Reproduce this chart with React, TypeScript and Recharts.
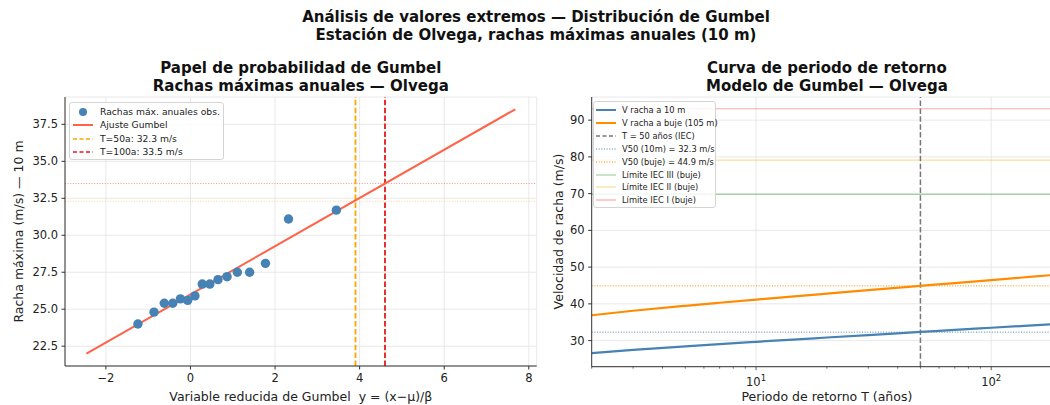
import React from 'react';
import { ComposedChart, Line, Scatter, XAxis, YAxis, CartesianGrid, ReferenceLine } from 'recharts';

// ---------- Left panel data (Gumbel probability paper) ----------
const obsReduced = [-1.243, -0.862, -0.619, -0.419, -0.238, -0.066, 0.105, 0.278, 0.458, 0.651, 0.865, 1.108, 1.399, 1.773, 2.318, 3.45];
const obsGust = [24.0, 24.8, 25.4, 25.4, 25.7, 25.6, 25.9, 26.7, 26.7, 27.0, 27.2, 27.5, 27.5, 28.1, 31.1, 31.7];
const fitReduced = [-2.46, 7.68];
const fitGust = [21.99, 38.52];
const leftXTicks = [-2, 0, 2, 4, 6, 8];
const leftYTicks = [22.5, 25, 27.5, 30, 32.5, 35, 37.5];
const reduced50 = 3.902;
const reduced100 = 4.6;
const gust50 = 32.3;
const gust100 = 33.5;

// ---------- Right panel data (return period curve) ----------
const periods = [2, 3, 5, 7, 10, 15, 20, 30, 50, 70, 100, 150, 200];
const gust10m = [26.6, 27.47, 28.44, 29.05, 29.67, 30.36, 30.84, 31.52, 32.36, 32.91, 33.5, 34.16, 34.63];
const gustHub = [36.9, 38.12, 39.47, 40.3, 41.16, 42.12, 42.79, 43.73, 44.9, 45.67, 46.48, 47.4, 48.05];
const v50_10m = 32.3;
const v50_hub = 44.9;
const iecIII = 69.8;
const iecII = 79.1;
const iecI = 93.1;
const designPeriod = 50;
const rightYTicks = [30, 40, 50, 60, 70, 80, 90];
const rightXMajor = [10, 100];
const rightXMinor = [2, 3, 4, 5, 6, 7, 8, 9, 20, 30, 40, 50, 60, 70, 80, 90, 200];

const obsData = obsReduced.map((x, i) => ({ x, y: obsGust[i] }));
const fitData = fitReduced.map((x, i) => ({ x, y: fitGust[i] }));
const curveData = periods.map((t, i) => ({ t, a: gust10m[i], b: gustHub[i] }));

const FONT = '"DejaVu Sans", sans-serif';
const GRID = '#e2e2e2';
const AXIS = '#333';
const STEEL = '#4682B4';
const TOMATO = '#FF6347';
const ORANGE = '#FFA500';
const RED = '#e41a1c';
const DORANGE = '#FF8C00';
const DASH = '5.5 2.4';
const DOT = '1 1.65';
const TICK_FONT = 11.5;

const RIGHT_AXIS_Y = 366.7;

const fmtMinus = (v: number) => (v < 0 ? '\u2212' + Math.abs(v) : String(v));

const LogTick = (props: any) => {
  const { x, payload } = props;
  const v = payload.value;
  const major = v === 10 || v === 100;
  const y0 = RIGHT_AXIS_Y;
  if (!major) {
    return <line x1={x} x2={x} y1={y0} y2={y0 + 2} stroke={AXIS} strokeWidth={0.7} />;
  }
  const exp = v === 10 ? '1' : '2';
  return (
    <g>
      <line x1={x} x2={x} y1={y0} y2={y0 + 3.5} stroke={AXIS} strokeWidth={0.8} />
      <text x={x} y={y0 + 19} textAnchor="middle" fontSize={TICK_FONT} fill="#222" fontFamily={FONT}>
        <tspan>10</tspan>
        <tspan dy={-5} fontSize={8.5}>{exp}</tspan>
      </text>
    </g>
  );
};

const LegendIcon = ({ kind, color, dash, width, opacity }: any) => (
  <svg width={20} height={8} style={{ display: 'block' }}>
    {kind === 'dot' ? (
      <circle cx={10} cy={4} r={4} fill={color} />
    ) : (
      <line x1={0} x2={20} y1={4} y2={4} stroke={color} strokeWidth={width} strokeDasharray={dash} strokeOpacity={opacity ?? 1} />
    )}
  </svg>
);

const LegendBox = ({ left, top, width, height, rows, first, step, textOffset, iconOffset, fontSize }: any) => (
  <div
    style={{
      position: 'absolute',
      left,
      top,
      width,
      height,
      background: 'rgba(255,255,255,0.85)',
      border: '1px solid #d4d4d4',
      borderRadius: 3,
      boxSizing: 'border-box',
    }}
  >
    {rows.map((r: any, i: number) => (
      <div key={i} style={{ position: 'absolute', left: 0, top: first + i * step - 5, height: 10, width: '100%' }}>
        <div style={{ position: 'absolute', left: iconOffset, top: 1 }}>
          <LegendIcon {...r} />
        </div>
        <div
          style={{
            position: 'absolute',
            left: textOffset,
            top: 0,
            fontSize,
            lineHeight: '10px',
            color: '#222',
            whiteSpace: 'nowrap',
            fontFamily: FONT,
          }}
        >
          {r.label}
        </div>
      </div>
    ))}
  </div>
);

const leftLegendRows = [
  { kind: 'dot', color: STEEL, label: 'Rachas máx. anuales obs.' },
  { kind: 'line', color: TOMATO, width: 2, label: 'Ajuste Gumbel' },
  { kind: 'line', color: ORANGE, width: 1.6, dash: '4 2.5', label: 'T=50a: 32.3 m/s' },
  { kind: 'line', color: RED, width: 1.6, dash: '4 2.5', label: 'T=100a: 33.5 m/s' },
];

const rightLegendRows = [
  { kind: 'line', color: STEEL, width: 2, label: 'V racha a 10 m' },
  { kind: 'line', color: DORANGE, width: 2, label: 'V racha a buje (105 m)' },
  { kind: 'line', color: '#777', width: 1.5, dash: '4 2.5', label: 'T = 50 años (IEC)' },
  { kind: 'line', color: STEEL, width: 1, dash: DOT, label: 'V50 (10m) = 32.3 m/s' },
  { kind: 'line', color: DORANGE, width: 1, dash: DOT, label: 'V50 (buje) = 44.9 m/s' },
  { kind: 'line', color: '#2ca02c', width: 1.2, opacity: 0.45, label: 'Límite IEC III (buje)' },
  { kind: 'line', color: ORANGE, width: 1.2, opacity: 0.4, label: 'Límite IEC II (buje)' },
  { kind: 'line', color: '#ff0000', width: 1.2, opacity: 0.35, label: 'Límite IEC I (buje)' },
];

const titleStyle: React.CSSProperties = {
  position: 'absolute',
  fontFamily: FONT,
  fontWeight: 'bold',
  fontSize: 15,
  lineHeight: '18px',
  textAlign: 'center',
  color: '#111',
  whiteSpace: 'nowrap',
};

const labelStyle: React.CSSProperties = {
  position: 'absolute',
  fontFamily: FONT,
  fontSize: 12.5,
  lineHeight: '15px',
  color: '#222',
  whiteSpace: 'nowrap',
};

export default function App() {
  return (
    <div
      style={{
        position: 'absolute',
        left: 0,
        top: 0,
        width: 1050,
        height: 405,
        overflow: 'hidden',
        background: '#fff',
        fontFamily: FONT,
      }}
    >
      {/* Suptitle */}
      <div style={{ ...titleStyle, left: 236, width: 600, top: 8 }}>
        Análisis de valores extremos — Distribución de Gumbel
        <br />
        Estación de Olvega, rachas máximas anuales (10 m)
      </div>

      {/* Left panel */}
      <div style={{ position: 'absolute', left: 0, top: 0 }}>
        <ComposedChart width={560} height={405} margin={{ top: 97, right: 23.3, bottom: 0, left: 0 }}>
          <CartesianGrid stroke={GRID} strokeWidth={0.8} />
          <XAxis
            type="number"
            dataKey="x"
            domain={[-2.967, 8.187]}
            ticks={leftXTicks}
            allowDataOverflow
            height={39}
            tickSize={3.5}
            tickMargin={4}
            stroke={AXIS}
            tick={{ fontSize: TICK_FONT, fill: '#222', fontFamily: FONT }}
            tickFormatter={fmtMinus}
          />
          <YAxis
            type="number"
            dataKey="y"
            domain={[21.16, 39.35]}
            ticks={leftYTicks}
            allowDataOverflow
            width={65}
            tickSize={3.5}
            tickMargin={3.5}
            stroke={AXIS}
            tick={{ fontSize: TICK_FONT, fill: '#222', fontFamily: FONT }}
            tickFormatter={(v: number) => v.toFixed(1)}
          />
          <ReferenceLine y={gust100} stroke={RED} strokeOpacity={0.45} strokeWidth={1} strokeDasharray={DOT} />
          <ReferenceLine y={gust50} stroke={ORANGE} strokeOpacity={0.45} strokeWidth={1} strokeDasharray={DOT} />
          <ReferenceLine x={reduced50} stroke={ORANGE} strokeWidth={1.8} strokeDasharray={DASH} />
          <ReferenceLine x={reduced100} stroke={RED} strokeWidth={1.8} strokeDasharray={DASH} />
          <Line data={fitData} dataKey="y" type="linear" stroke={TOMATO} strokeWidth={2} dot={false} isAnimationActive={false} />
          <Scatter
            data={obsData}
            dataKey="y"
            fill={STEEL}
            isAnimationActive={false}
            shape={(p: any) => <circle cx={p.cx} cy={p.cy} r={4.7} fill={STEEL} />}
          />
        </ComposedChart>
      </div>

      {/* Right panel */}
      <div style={{ position: 'absolute', left: 540, top: 0 }}>
        <ComposedChart width={540} height={405} data={curveData} margin={{ top: 97, right: 18, bottom: 0, left: 0 }}>
          <CartesianGrid stroke={GRID} strokeWidth={0.8} vertical={false} />
          <XAxis
            type="number"
            dataKey="t"
            scale="log"
            domain={[2, 200]}
            ticks={[...rightXMinor, ...rightXMajor].sort((a, b) => a - b)}
            allowDataOverflow
            height={38.3}
            tickLine={false}
            tickSize={0}
            stroke={AXIS}
            tick={<LogTick />}
            interval={0}
          />
          <YAxis
            type="number"
            domain={[22.9, 96.3]}
            ticks={rightYTicks}
            allowDataOverflow
            width={51.7}
            tickSize={3.5}
            tickMargin={3.5}
            stroke={AXIS}
            tick={{ fontSize: TICK_FONT, fill: '#222', fontFamily: FONT }}
          />
          {rightXMajor.map((v) => (
            <ReferenceLine key={v} x={v} stroke={GRID} strokeWidth={0.8} />
          ))}
          <ReferenceLine y={iecIII} stroke="#2ca02c" strokeOpacity={0.45} strokeWidth={1.2} />
          <ReferenceLine y={iecII} stroke={ORANGE} strokeOpacity={0.4} strokeWidth={1.2} />
          <ReferenceLine y={iecI} stroke="#ff0000" strokeOpacity={0.35} strokeWidth={1.2} />
          <ReferenceLine y={v50_10m} stroke={STEEL} strokeWidth={1} strokeDasharray={DOT} />
          <ReferenceLine y={v50_hub} stroke={DORANGE} strokeWidth={1} strokeDasharray={DOT} />
          <ReferenceLine x={designPeriod} stroke="#777" strokeWidth={1.5} strokeDasharray={DASH} />
          <Line dataKey="a" type="monotone" stroke={STEEL} strokeWidth={2.2} dot={false} isAnimationActive={false} />
          <Line dataKey="b" type="monotone" stroke={DORANGE} strokeWidth={2.2} dot={false} isAnimationActive={false} />
        </ComposedChart>
      </div>

      {/* Subplot titles */}
      <div style={{ ...titleStyle, left: 150.8, width: 300, top: 59 }}>
        Papel de probabilidad de Gumbel
        <br />
        Rachas máximas anuales — Olvega
      </div>
      <div style={{ ...titleStyle, left: 676.9, width: 300, top: 59 }}>
        Curva de periodo de retorno
        <br />
        Modelo de Gumbel — Olvega
      </div>

      {/* Axis labels */}
      <div style={{ ...labelStyle, left: 100.8, width: 400, textAlign: 'center', top: 389 }}>
        Variable reducida de Gumbel&nbsp; y = (x−μ)/β
      </div>
      <div style={{ ...labelStyle, left: 626.9, width: 400, textAlign: 'center', top: 389 }}>
        Periodo de retorno T (años)
      </div>
      <div
        style={{
          ...labelStyle,
          left: 18 - 150,
          top: 231.5 - 7.5,
          width: 300,
          textAlign: 'center',
          transform: 'rotate(-90deg)',
        }}
      >
        Racha máxima (m/s) — 10 m
      </div>
      <div
        style={{
          ...labelStyle,
          left: 558 - 150,
          top: 231.5 - 7.5,
          width: 300,
          textAlign: 'center',
          transform: 'rotate(-90deg)',
        }}
      >
        Velocidad de racha (m/s)
      </div>

      {/* Legends */}
      <LegendBox
        left={69}
        top={101.5}
        width={155}
        height={58}
        rows={leftLegendRows}
        first={9.2}
        step={13.4}
        iconOffset={3}
        textOffset={30}
        fontSize={9.2}
      />
      <LegendBox
        left={593.3}
        top={101}
        width={123}
        height={107}
        rows={rightLegendRows}
        first={8}
        step={12.9}
        iconOffset={1.7}
        textOffset={27.7}
        fontSize={8.3}
      />
    </div>
  );
}
